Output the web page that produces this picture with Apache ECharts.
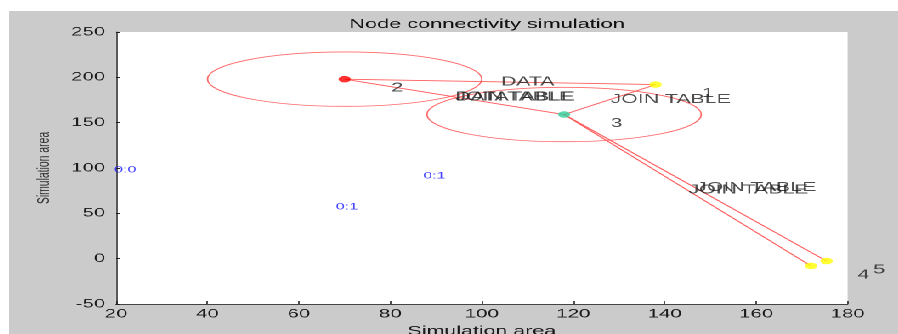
<!DOCTYPE html>
<html>
<head>
<meta charset="utf-8">
<script src="https://cdn.jsdelivr.net/npm/echarts@6/dist/echarts.min.js"></script>
<style>
  html, body { margin: 0; padding: 0; background: #fff; width: 898px; height: 334px; overflow: hidden; }
  #fig { position: absolute; left: 9px; top: 11px; height: 323px; transform-origin: 0 0; }
</style>
</head>
<body>
<div id="fig"></div>
<script>
// The figure is laid out at a narrower width and stretched sideways,
// which gives the wide lettering and flattened node markers.
const STRETCH = 1.7;
const FIG_W = 889;

// Axes
const xMin = 20, xMax = 180, xStep = 20;
const yMin = -50, yMax = 250, yStep = 50;

// Nodes
const nodeNames = ['1', '2', '3', '4', '5'];
const nodeX = [138, 70, 118, 172, 175.4];
const nodeY = [192, 198, 159, -8, -2.6];
const nodeColors = ['#ffff00', '#ff0000', '#2fcf9c', '#ffff00', '#ffff00'];

// Transmission ranges drawn around nodes
const rangeNodes = ['2', '3'];
const rangeRadius = [30, 30];

// Links between nodes
const linkFrom = ['2', '2', '3', '3', '3'];
const linkTo   = ['1', '3', '1', '4', '5'];

// Messages, written at the middle of the link they travel on
const msgFrom = ['2', '2', '3', '3', '3', '3'];
const msgTo   = ['1', '3', '2', '1', '4', '5'];
const msgText = ['DATA', 'DATATABLE', 'JOIN TABLE', 'JOIN TABLE', 'JOIN TABLE', 'JOIN TABLE'];

// Status tags
const statusX = [19.4, 67.9, 87];
const statusY = [98, 57, 91];
const statusText = ['0:0', '0:1', '0:1'];

// Node numbers sit this far (in axis units) from their node
const nameShift = [10, -10];

const FONT = 'Liberation Sans, Arial, Helvetica, sans-serif';
const TEXT = '#1a1a1a';

const idx = n => nodeNames.indexOf(n);
const pos = n => [nodeX[idx(n)], nodeY[idx(n)]];

const el = document.getElementById('fig');
el.style.width = (FIG_W / STRETCH) + 'px';
el.style.transform = 'scaleX(' + STRETCH + ')';

const chart = echarts.init(el, null, { renderer: 'canvas', devicePixelRatio: 2 });

const textLabel = (size, color) => ({
  show: true, position: 'right', distance: 0,
  fontFamily: FONT, fontSize: size, color: color,
  formatter: p => p.name
});

const hidden = { color: 'rgba(0,0,0,0)' };

const option = {
  backgroundColor: '#cbcbcb',
  animation: false,
  title: {
    text: 'Node connectivity simulation',
    left: (478.5 - 9) / STRETCH, top: 2, textAlign: 'center',
    textStyle: { fontFamily: FONT, fontSize: 12.8, fontWeight: 'normal', color: '#111' }
  },
  grid: {
    left: (116 - 9) / STRETCH, right: (898 - 847.5) / STRETCH, top: 21, bottom: 30,
    outerBoundsMode: 'none', containLabel: false,
    show: true, backgroundColor: '#ffffff', borderWidth: 0
  },
  xAxis: {
    type: 'value', min: xMin, max: xMax, interval: xStep,
    name: 'Simulation area', nameLocation: 'middle', nameGap: 17,
    nameTextStyle: { fontFamily: FONT, fontSize: 12.6, color: TEXT },
    axisLine: { show: true, onZero: false, lineStyle: { color: '#444', width: 1 } },
    axisTick: { show: true, inside: true, length: 3, lineStyle: { color: '#222', width: 0.8 } },
    axisLabel: { margin: 4, fontFamily: FONT, fontSize: 12, color: TEXT },
    splitLine: { show: false }
  },
  yAxis: {
    type: 'value', min: yMin, max: yMax, interval: yStep,
    name: 'Simulation area', nameLocation: 'middle', nameGap: 36,
    nameTextStyle: { fontFamily: FONT, fontSize: 10.4, color: '#333' },
    axisLine: { show: true, onZero: false, lineStyle: { color: '#111', width: 0.7 } },
    axisTick: { show: true, inside: true, length: 2.5, lineStyle: { color: '#222', width: 1 } },
    axisLabel: { margin: 6.4, fontFamily: FONT, fontSize: 12, color: TEXT },
    splitLine: { show: false }
  },
  series: [
    {
      // transmission range circles
      type: 'custom',
      silent: true,
      data: rangeNodes.map((n, i) => [...pos(n), rangeRadius[i]]),
      encode: { x: 0, y: 1 },
      renderItem: (params, api) => {
        const c = api.coord([api.value(0), api.value(1)]);
        const s = api.size([api.value(2), api.value(2)]);
        return {
          type: 'ellipse',
          shape: { cx: c[0], cy: c[1], rx: s[0], ry: s[1] },
          style: { fill: null, stroke: '#ff6a6a', lineWidth: 0.9 }
        };
      },
      z: 2
    },
    {
      type: 'lines',
      coordinateSystem: 'cartesian2d',
      silent: true,
      lineStyle: { color: '#ff5c5c', width: 0.9, opacity: 1, curveness: 0 },
      data: linkFrom.map((f, i) => ({ coords: [pos(f), pos(linkTo[i])] })),
      z: 3
    },
    {
      type: 'scatter',
      symbol: 'circle',
      symbolSize: [7.2, 6.5],
      data: nodeNames.map((n, i) => ({ name: n, value: [nodeX[i], nodeY[i]], itemStyle: { color: nodeColors[i] } })),
      z: 5
    },
    {
      // node numbers
      type: 'scatter', clip: false, symbolSize: 1, itemStyle: hidden,
      label: textLabel(12.5, '#222'),
      data: nodeNames.map((n, i) => ({ name: n, value: [nodeX[i] + nameShift[0], nodeY[i] + nameShift[1]] })),
      z: 6
    },
    {
      // messages on links
      type: 'scatter', clip: false, symbolSize: 1, itemStyle: hidden,
      label: textLabel(12.5, '#222'),
      data: msgText.map((t, i) => {
        const a = pos(msgFrom[i]), b = pos(msgTo[i]);
        return { name: t, value: [(a[0] + b[0]) / 2, (a[1] + b[1]) / 2] };
      }),
      z: 6
    },
    {
      // status tags
      type: 'scatter', clip: false, symbolSize: 1, itemStyle: hidden,
      label: textLabel(9.4, '#1515ff'),
      data: statusText.map((t, i) => ({ name: t, value: [statusX[i], statusY[i]] })),
      z: 6
    }
  ]
};

chart.setOption(option);
</script>
</body>
</html>
